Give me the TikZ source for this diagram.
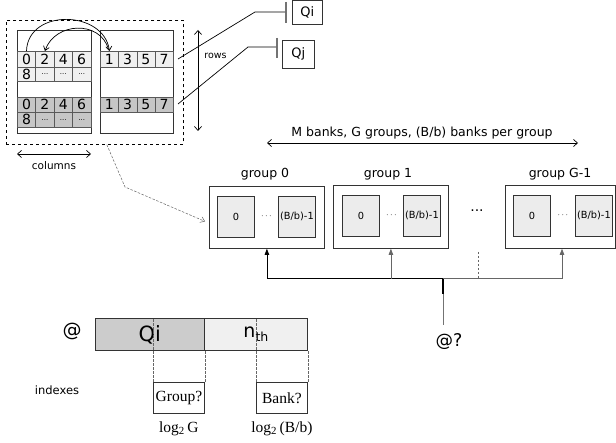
\documentclass[tikz,border=0pt]{standalone}
\usepackage{fontspec}
\setmainfont{DejaVu Sans}
\newfontfamily\tnr{Liberation Serif}
\usetikzlibrary{arrows.meta,calc}
\newcommand\dd{{\fontsize{7}{7}\selectfont...}}
\begin{document}
\begin{tikzpicture}[x=1pt,y=-1pt,
  line width=0.7pt,
  rect/.style={draw=black!80, line width=0.8pt, inner sep=0pt, anchor=north west},
  cell/.style={draw=black!65, line width=0.6pt, inner sep=0pt, anchor=north west, minimum width=18.4pt, font=\fontsize{14}{14}\selectfont},
  lite/.style={cell, fill=gray!12},
  darkc/.style={cell, fill=gray!45},
  bankbox/.style={rect, fill=gray!15, minimum width=37pt, minimum height=41pt, font=\fontsize{9.8}{10}\selectfont},
  grpbox/.style={rect, fill=white, minimum width=115pt, minimum height=62pt},
  lbl/.style={font=\fontsize{12.5}{13}\selectfont, inner sep=0pt},
  barb/.style={-{Straight Barb[length=4pt,width=6pt]}},
  dbarb/.style={{Straight Barb[length=4pt,width=7pt]}-{Straight Barb[length=4pt,width=7pt]}},
  uparr/.style={-{Triangle[length=6pt,width=4.5pt]}},
  fdash/.style={dash pattern=on 2.5pt off 1.5pt, line width=0.5pt, black!60},
  serlbl/.style={font=\tnr\fontsize{15.5}{16}\selectfont},
]
\useasboundingbox (0,0) rectangle (616,443);
\fill[white] (0,0) rectangle (616,443);

% memory
\node[rect, dashed, draw=black, line width=0.7pt, minimum width=177pt, minimum height=124pt] (mem) at (6,20) {};
\node[rect, minimum width=73.5pt, minimum height=103pt] (lb) at (17,30) {};
\node[rect, minimum width=73pt, minimum height=103pt] (rb) at (100,30) {};
\foreach \d [count=\i from 0] in {0,2,4,6} {
  \node[lite, minimum height=16pt] (la\i) at ({17+18.4*\i},51) {\d};
  \node[darkc, minimum height=15pt] (lc\i) at ({17+18.4*\i},97) {\d};
}
\foreach \d [count=\i from 0] in {8,\dd,\dd,\dd} {
  \node[lite, minimum height=14.5pt] (lbb\i) at ({17+18.4*\i},67) {\d};
  \node[darkc, minimum height=15pt] (ld\i) at ({17+18.4*\i},112) {\d};
}
\foreach \d [count=\i from 0] in {1,3,5,7} {
  \node[lite, minimum height=16pt, minimum width=18.25pt] (ra\i) at ({100+18.25*\i},51) {\d};
  \node[darkc, minimum height=15pt, minimum width=18.25pt] (rc\i) at ({100+18.25*\i},97) {\d};
}
\draw[barb] (la0.north) .. controls (28,8) and (104,10) .. (ra0.north);
\draw[barb] ($(ra0.north)+(-1,-2)$) .. controls (100,20) and (55,22) .. (la1.north);

% rows / columns
\coordinate (rtop) at (198,30);
\coordinate (rbot) at (198,131);
\draw[dbarb] (rtop) -- (rbot);
\node[font=\fontsize{9.5}{10}\selectfont, anchor=west, inner sep=0pt] (rows) at (204,56) {rows};
\coordinate (ctl) at (17,154);
\coordinate (ctr) at (91,154);
\draw[dbarb] (ctl) -- (ctr);
\node[font=\fontsize{10.5}{11}\selectfont, inner sep=0pt] (cols) at (54,166) {columns};

% Qi Qj
\node[rect, minimum width=30pt, minimum height=24pt, font=\fontsize{13}{13}\selectfont] (qi) at (292,0) {Qi};
\node[rect, minimum width=32pt, minimum height=28pt, font=\fontsize{13}{13}\selectfont] (qj) at (282,40) {Qj};
\draw[line width=1.6pt, black!55] (286,2) -- (286,23);
\draw[line width=1.6pt, black!55] (277,38) -- (277,58);
\coordinate (qia) at (178,59);
\coordinate (qib) at (255,12);
\coordinate (qic) at (285,12);
\draw (qia) -- (qib) -- (qic);
\coordinate (qja) at (178,104);
\coordinate (qjb) at (248,47);
\coordinate (qjc) at (276,47);
\draw (qja) -- (qjb) -- (qjc);

% banks header
\node[lbl] (mb) at (422,133) {M banks, G groups, (B/b) banks per group};
\coordinate (mbl) at (267,143);
\coordinate (mbr) at (578,143);
\draw[dbarb] (mbl) -- (mbr);

% groups
\node[grpbox] (g0) at (209,186) {};
\node[grpbox, minimum height=63pt] (g1) at (333,185) {};
\node[grpbox, minimum width=110pt, minimum height=63pt] (gG) at (505,185) {};
\node[lbl] (g0l) at (265,174) {group 0};
\node[lbl] (g1l) at (388,174) {group 1};
\node[lbl] (gGl) at (560,174) {group G-1};
\node[bankbox] (g0a) at (217,196) {0};
\node[bankbox] (g0b) at (278,196) {(B/b)-1};
\node[bankbox] (g1a) at (342,195) {0};
\node[bankbox] (g1b) at (403,195) {(B/b)-1};
\node[bankbox] (gGa) at (513,195) {0};
\node[bankbox] (gGb) at (575,195) {(B/b)-1};
\foreach \a/\b in {g0a/g0b,g1a/g1b,gGa/gGb}
  \node[font=\fontsize{9}{9}\selectfont] at ($(\a.east)!0.5!(\b.west)$) {$\cdots$};
\node[font=\fontsize{14}{14}\selectfont] (gdots) at (477,211) {...};

% address lines
\coordinate (src) at (443,325);
\coordinate (hub) at (443,278);
\draw[black!55] (src) -- (hub);
\draw[line width=1.3pt] (hub) -- ($(hub)+(0,16)$);
\draw[uparr] (hub) -| (g0.south);
\draw[uparr, black!60] ($(g1.south)+(0,30)$) -- (g1.south);
\draw[uparr, black!60] (hub) -| ($(gG.south west)+(57,0)$);
\coordinate (dva) at (478,252);
\coordinate (dvb) at (478,278);
\draw[fdash] (dva) -- (dvb);
\node[font=\fontsize{17.5}{18}\selectfont] (aq2) at (449,342) {@?};

% memory to group 0
\coordinate (mm) at ($(mem.south)+(12,0)$);
\coordinate (mk) at (125,187);
\draw[fdash, barb] (mm) -- (mk) -- ($(g0.west)+(-4,4)$);

% address
\node[font=\fontsize{19}{19}\selectfont] (atsym) at (72,331) {@};
\node[rect, fill=gray!40, minimum width=109pt, minimum height=32pt, font=\fontsize{21}{21}\selectfont] (aq) at (95,318) {Qi};
\node[rect, fill=gray!12, minimum width=103pt, minimum height=32pt, font=\fontsize{19}{19}\selectfont] (an) at (204,318) {n\raisebox{-0.35ex}{\fontsize{12.5}{12.5}\selectfont th}};
\node[font=\fontsize{11.5}{12}\selectfont] (idx) at (57,390) {indexes};
\node[rect, minimum width=51pt, minimum height=31pt, serlbl] (gq) at (153,382) {Group?};
\node[rect, minimum width=51pt, minimum height=31pt, serlbl] (bq) at (256,382) {Bank?};
\draw[fdash] (gq.north west) -- (gq.north west |- aq.north);
\draw[fdash] (gq.north east) -- (gq.north east |- aq.south);
\draw[fdash] (bq.north west) -- (bq.north west |- aq.north);
\draw[fdash] (bq.north east) -- (bq.north east |- aq.south);
\node[serlbl] (lg) at ($(gq.south)+(0,15)$) {log\textsubscript{2}\,G};
\node[serlbl] (lb2) at ($(bq.south)+(0,15)$) {log\textsubscript{2}\,(B/b)};
\end{tikzpicture}
\end{document}
